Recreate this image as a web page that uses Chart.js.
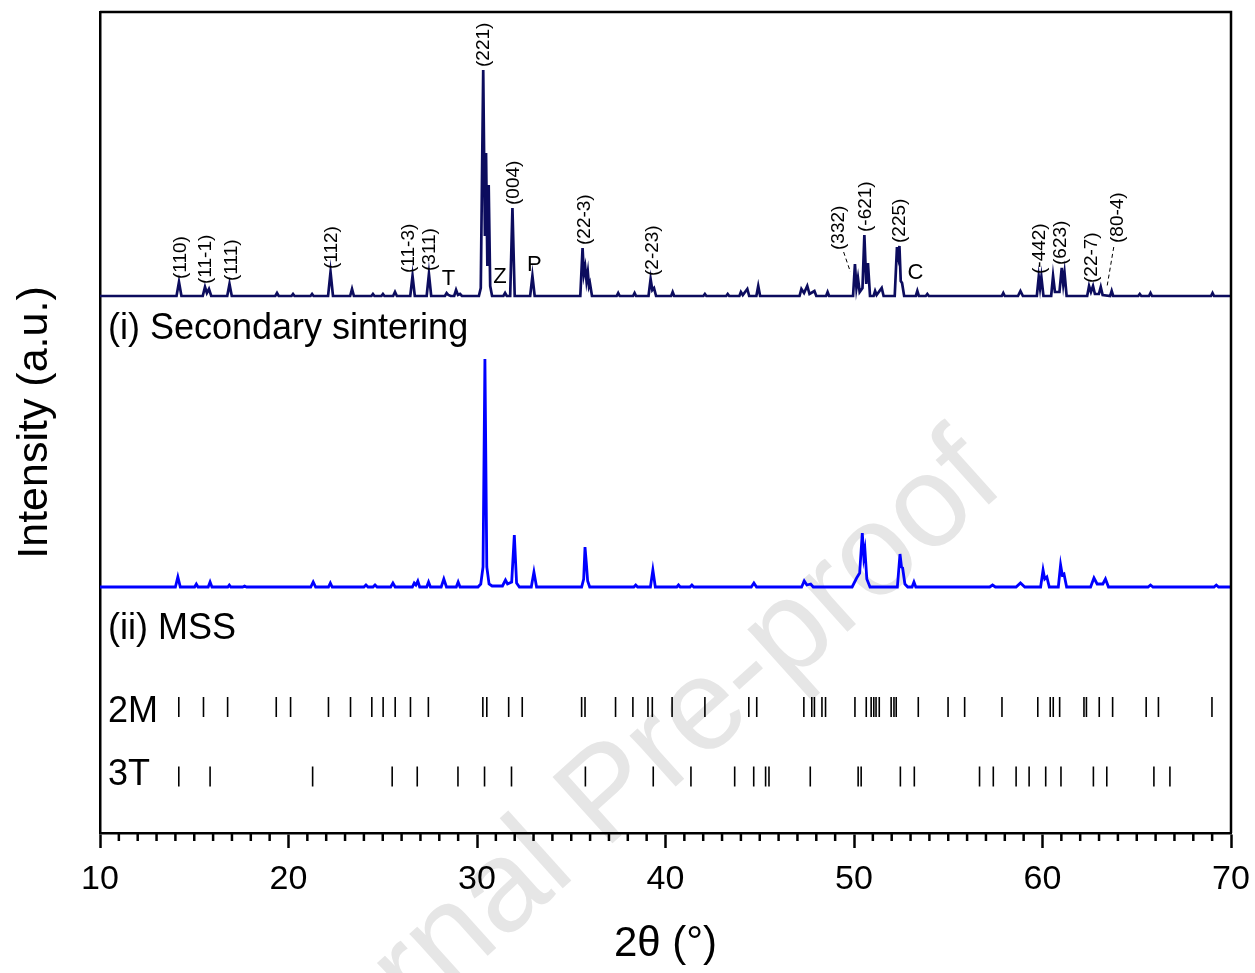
<!DOCTYPE html>
<html>
<head>
<meta charset="utf-8">
<script src="https://cdn.jsdelivr.net/npm/chart.js@4.4.1/dist/chart.umd.min.js"></script>
<style>
html,body{margin:0;padding:0;background:#fff;}
#wrap{width:1255px;height:973px;position:relative;}
</style>
</head>
<body>
<div id="wrap"><canvas id="c" width="1255" height="973"></canvas></div>
<script>
const FONT = '"Liberation Sans", Arial, Helvetica, sans-serif';

// (i) Secondary sintering pattern: 2θ (°) and intensity (a.u.)
const secTheta = [10,
 14.06,14.19,14.32, 15.45,15.57,15.67,15.78,15.9, 16.75,16.87,16.99,
 19.3,19.39,19.48, 20.16,20.24,20.32, 21.17,21.25,21.33, 22.1,22.23,22.36,
 23.27,23.37,23.47, 24.4,24.48,24.56, 24.93,25.01,25.09, 25.55,25.65,25.75,
 26.46,26.58,26.7, 27.33,27.45,27.57,
 28.3,28.39,28.48,28.6,28.79,28.89,28.99,29.1,29.2,
 30.1,30.2,30.33,30.42,30.48,30.55,30.62,30.7,30.8,
 31.4,31.49,31.58, 31.76,31.88,32.0, 32.82,32.94,33.06,
 35.48,35.6,35.67,35.74,35.81,35.88,35.94,35.99,36.1,
 37.41,37.49,37.57, 38.28,38.36,38.44, 39.1,39.21,39.3,39.39,39.5,
 40.3,40.38,40.46, 42.01,42.09,42.17, 43.22,43.3,43.38,
 43.92,44.0,44.1,44.34,44.44, 44.82,44.92,45.02,
 47.11,47.21,47.35,47.52,47.64,47.9,48.0, 48.52,48.6,48.68,
 49.95,50.05,50.13,50.21,50.3,50.45,50.55,50.65,50.74,50.85,
 51.04,51.12,51.2,51.47,51.57,
 52.16,52.28,52.35,52.41,52.48,52.55,52.66,
 53.28,53.36,53.44, 53.81,53.89,53.97,
 57.84,57.92,58.0, 58.7,58.83,58.96,
 59.7,59.8,59.87,59.94,60.05,
 60.46,60.56,60.66,60.9,61.02,61.1,61.17,61.28,
 62.37,62.47,62.57,62.68,62.78,62.99,63.09,63.19,63.59,63.67,63.75,
 65.08,65.16,65.24, 65.65,65.73,65.81, 68.94,69.02,69.1,
 70];
const secInt = [0,
 0,14,0, 0,9,3,7,0, 0,12,0,
 0,3,0, 0,2,0, 0,2,0, 0,24,0,
 0,7,0, 0,2,0, 0,2,0, 0,4,0,
 0,20,0, 0,22,0,
 0,3,1,0,0,6,1,2,0,
 0,8,226,60,143,30,111,10,0,
 0,3,0, 0,88,0, 0,20,0,
 0,48,22,29,15,24,10,13,0,
 0,3,0, 0,3,0, 0,17,6,8,0,
 0,4,0, 0,2,0, 0,2,0,
 0,4,1,7,0, 0,10,0,
 0,7,3,10,2,5,0, 0,4,0,
 0,32,8,18,4,8,61,12,33,0,
 0,5,1,8,0,
 0,49,40,50,15,13,0,
 0,5,0, 0,2,0,
 0,3,0, 0,5,0,
 0,19,8,19,0,
 0,20,4,4,28,12,23,0,
 0,10,4,10,2,2,9,1,0,5,0,
 0,2,0, 0,3,0, 0,3,0,
 0];

// (ii) MSS pattern: 2θ (°) and intensity (a.u.)
const mssTheta = [10,
 14.0,14.13,14.26, 15.02,15.11,15.2, 15.74,15.84,15.94, 16.78,16.86,16.94,
 17.57,17.67,17.77, 21.18,21.31,21.44, 22.12,22.22,22.32,
 24.0,24.11,24.22, 24.48,24.59,24.7, 25.42,25.54,25.66,
 26.57,26.67,26.76,26.86,26.96, 27.33,27.43,27.53, 28.1,28.24,28.38, 28.9,29.0,29.1,
 30.05,30.2,30.32,30.42,30.52,30.64,30.8,
 31.35,31.51,31.62,31.84,31.98,32.1,32.25,
 32.88,33.02,33.16,
 35.55,35.66,35.73,35.8,35.87,35.98,
 38.32,38.42,38.52, 39.2,39.33,39.46,
 40.6,40.69,40.78, 41.3,41.4,41.5, 44.55,44.69,44.83,
 47.22,47.36,47.5,47.7,47.84,
 49.9,50.14,50.3,50.44,50.52,50.58,50.68,50.85,
 52.3,52.44,52.52,52.58,52.7,52.85,
 53.08,53.18,53.28, 57.2,57.35,57.5, 58.6,58.83,59.06,
 59.9,60.03,60.12,60.23,60.36,
 60.84,60.96,61.05,61.14,61.28,
 62.55,62.73,62.9,63.2,63.34,63.5,
 65.6,65.73,65.86, 69.1,69.22,69.34,
 70];
const mssInt = [0,
 0,10,0, 0,3,0, 0,5,0, 0,2,0,
 0,1,0, 0,5,0, 0,4,0,
 0,2,0, 0,2,0, 0,4,0,
 0,4,2,6,0, 0,5,0, 0,8,0, 0,5,0,
 0,3,20,228,20,3,1,
 1,7,3,5,52,4,0,
 0,15,0,
 0,8,40,24,6,0,
 0,2,0, 0,17,0,
 0,2,0, 0,2,0, 0,4,0,
 0,6,2,3,0,
 0,9,14,54,30,37,8,0,
 0,33,20,19,3,0,
 0,5,0, 0,2,0, 0,4,0,
 0,17,8,10,0,
 0,22,12,13,0,
 0,9,3,3,8,0,
 0,2,0, 0,2,0,
 0];

// Reference reflection positions (2θ, °)
const ref2M = [14.18,15.49,16.77,19.35,20.11,22.12,23.29,24.42,25.02,25.66,26.47,27.42,
 30.31,30.52,31.68,32.4,35.55,35.73,37.35,38.27,39.07,39.3,40.35,42.09,44.42,44.84,
 47.34,47.76,47.9,48.3,48.49,50.05,50.65,50.91,51.05,51.17,51.34,51.97,52.12,52.24,
 53.41,54.99,55.87,57.85,59.75,60.41,60.57,60.91,62.2,62.33,63.01,63.72,65.5,66.15,68.99];
const ref3T = [14.18,15.84,21.28,25.5,26.83,28.99,30.4,31.83,35.75,39.35,41.35,43.67,44.68,
 45.31,45.49,47.68,50.22,50.38,52.46,53.2,56.66,57.39,58.6,59.29,60.17,60.98,62.7,63.41,65.91,66.76];

// Miller-index labels on pattern (i)
const peakLabelText = ['(110)','(11-1)','(111)','(112)','(11-3)','(311)','(221)','(004)',
 '(22-3)','(2-23)','(-621)','(225)','(-442)','(623)','(22-7)'];
const peakLabelTheta = [14.30,15.62,17.00,22.31,26.37,27.51,30.34,31.96,35.73,39.34,50.64,52.41,59.87,60.98,62.63];

// Labels with dashed leader lines
const leaderText = ['(332)','(80-4)'];
const leaderTheta = [49.17,64.0];
const leaderLevel = [46,53];
const leaderStartTheta = [49.45,63.78];
const leaderStartLevel = [44,49];
const leaderEndTheta = [49.81,63.42];
const leaderEndLevel = [24,9];

// Impurity phase marks
const phaseText = ['T','Z','P','C'];
const phaseTheta = [28.48,31.22,33.04,53.26];
const phaseLevel = [17,19,31,23];

// Axis ticks
const xTickValues = [10,20,30,40,50,60,70];

// Stacking (vertical offsets in a.u.)
const SEC_OFFSET = 537;
const MSS_OFFSET = 246;
const ROW_2M = 126;
const ROW_3T = 56.5;

const secData = secTheta.map((t,i)=>({x:t,y:secInt[i]+SEC_OFFSET}));
const mssData = mssTheta.map((t,i)=>({x:t,y:mssInt[i]+MSS_OFFSET}));
const m2Data = ref2M.map(t=>({x:t,y:ROW_2M}));
const t3Data = ref3T.map(t=>({x:t,y:ROW_3T}));

function peakMax(theta){
  let m = 0;
  secTheta.forEach((t,i)=>{ if (Math.abs(t-theta) <= 0.25 && secInt[i] > m) m = secInt[i]; });
  return m;
}

const annot = {
  id: 'annot',
  beforeDraw(chart){
    const ctx = chart.ctx;
    ctx.save();
    ctx.translate(634, 824);
    ctx.rotate(-42*Math.PI/180);
    ctx.font = '130px ' + FONT;
    ctx.fillStyle = '#e6e6e6';
    ctx.textAlign = 'center';
    ctx.textBaseline = 'alphabetic';
    ctx.fillText('Journal Pre-proof', 0, 0);
    ctx.restore();
  },
  afterDatasetsDraw(chart){
    const ctx = chart.ctx, xs = chart.scales.x, ys = chart.scales.y;
    ctx.save();
    ctx.fillStyle = '#000';
    ctx.font = '19px ' + FONT;
    ctx.textAlign = 'left';
    ctx.textBaseline = 'middle';
    peakLabelText.forEach((txt,i)=>{
      const th = peakLabelTheta[i];
      const px = xs.getPixelForValue(th);
      const py = ys.getPixelForValue(SEC_OFFSET + peakMax(th) + 3);
      ctx.save(); ctx.translate(px, py); ctx.rotate(-Math.PI/2); ctx.fillText(txt, 0, 0); ctx.restore();
    });
    leaderText.forEach((txt,i)=>{
      const px = xs.getPixelForValue(leaderTheta[i]);
      const py = ys.getPixelForValue(SEC_OFFSET + leaderLevel[i]);
      ctx.save(); ctx.translate(px, py); ctx.rotate(-Math.PI/2); ctx.fillText(txt, 0, 0); ctx.restore();
      ctx.save();
      ctx.strokeStyle = '#000'; ctx.lineWidth = 1; ctx.setLineDash([4,3]);
      ctx.beginPath();
      ctx.moveTo(xs.getPixelForValue(leaderStartTheta[i]), ys.getPixelForValue(SEC_OFFSET + leaderStartLevel[i]));
      ctx.lineTo(xs.getPixelForValue(leaderEndTheta[i]), ys.getPixelForValue(SEC_OFFSET + leaderEndLevel[i]));
      ctx.stroke();
      ctx.restore();
    });
    ctx.font = '22px ' + FONT;
    ctx.textAlign = 'center';
    ctx.textBaseline = 'middle';
    phaseText.forEach((txt,i)=>{
      ctx.fillText(txt, xs.getPixelForValue(phaseTheta[i]), ys.getPixelForValue(SEC_OFFSET + phaseLevel[i]));
    });
    const left = chart.chartArea.left + 8;
    ctx.textAlign = 'left';
    ctx.font = '36px ' + FONT;
    ctx.fillText('(i) Secondary sintering', left, ys.getPixelForValue(504));
    ctx.fillText('(ii) MSS', left, ys.getPixelForValue(204));
    ctx.fillText('2M', left, ys.getPixelForValue(121));
    ctx.fillText('3T', left, ys.getPixelForValue(58));
    ctx.restore();
  },
  afterDraw(chart){
    const ctx = chart.ctx, xs = chart.scales.x, a = chart.chartArea;
    ctx.save();
    ctx.strokeStyle = '#000';
    ctx.lineWidth = 2.5;
    ctx.beginPath();
    ctx.moveTo(a.left, a.top); ctx.lineTo(a.right, a.top); ctx.lineTo(a.right, a.bottom);
    ctx.stroke();
    ctx.beginPath();
    for (let v = 11; v < 70; v++) {
      if (v % 10 === 0) continue;
      const x = xs.getPixelForValue(v);
      ctx.moveTo(x, a.bottom); ctx.lineTo(x, a.bottom + 8);
    }
    ctx.stroke();
    ctx.restore();
  }
};

new Chart(document.getElementById('c'), {
  type: 'scatter',
  data: {
    datasets: [
      {label:'(i) Secondary sintering', data: secData, showLine:true, borderColor:'#0c0c5e', borderWidth:2.7, pointRadius:0, tension:0},
      {label:'(ii) MSS', data: mssData, showLine:true, borderColor:'#0000ff', borderWidth:2.8, pointRadius:0, tension:0},
      {label:'2M', data: m2Data, showLine:false, pointStyle:'line', pointRadius:10, pointRotation:90, pointBorderColor:'#000', pointBorderWidth:1.6, pointBackgroundColor:'#000'},
      {label:'3T', data: t3Data, showLine:false, pointStyle:'line', pointRadius:10, pointRotation:90, pointBorderColor:'#000', pointBorderWidth:1.6, pointBackgroundColor:'#000'}
    ]
  },
  options: {
    responsive:false,
    animation:false,
    events:[],
    layout:{padding:{left:0,right:24,top:12,bottom:0}},
    plugins:{legend:{display:false}, tooltip:{enabled:false}},
    scales:{
      x:{
        type:'linear', position:'bottom', min:10, max:70,
        afterBuildTicks: s => { s.ticks = xTickValues.map(v=>({value:v})); },
        ticks:{font:{family:FONT,size:34}, color:'#000', padding:11, maxRotation:0},
        grid:{display:true, drawOnChartArea:false, drawTicks:true, tickLength:15, tickWidth:2.5, tickColor:'#000'},
        border:{display:true, width:2.5, color:'#000'},
        title:{display:true, text:'2θ (°)', font:{family:FONT,size:42}, color:'#000', padding:{top:0,bottom:3}},
        afterFit: s => { s.height = 140; s.paddingLeft = 0; s.paddingRight = 0; }
      },
      y:{
        type:'linear', position:'left', min:0, max:821,
        ticks:{display:false},
        grid:{display:false},
        border:{display:true, width:2.5, color:'#000'},
        title:{display:true, text:'Intensity (a.u.)', font:{family:FONT,size:43}, color:'#000', padding:{top:9,bottom:0}},
        afterFit: s => { s.width = 100; s.paddingTop = 0; s.paddingBottom = 0; }
      }
    }
  },
  plugins:[annot]
});
</script>
</body>
</html>
